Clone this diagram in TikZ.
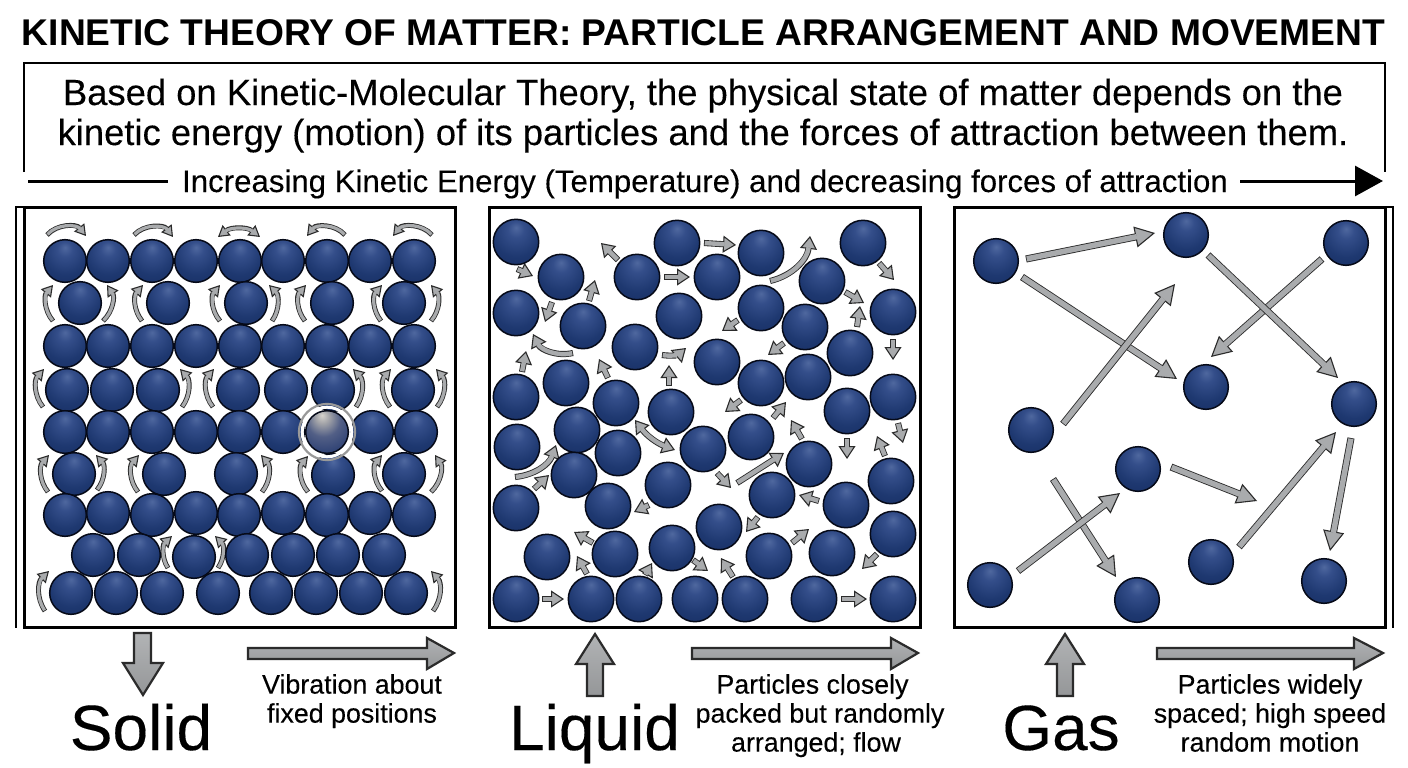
\documentclass[tikz,border=0pt]{standalone}
\usepackage{fontspec}
\setmainfont{Liberation Sans}
\newfontfamily\sturdy[FakeBold=0.2]{Liberation Sans}
\usetikzlibrary{arrows.meta}

\definecolor{arrowgray}{HTML}{A9ABAD}
\definecolor{arrowedge}{HTML}{2B2B2B}
\definecolor{rim}{HTML}{060A18}
\definecolor{ballA}{HTML}{4F689F}
\definecolor{ballB}{HTML}{344E8A}
\definecolor{ballC}{HTML}{1E3870}
\definecolor{ballD}{HTML}{142A5E}
\definecolor{ballE}{HTML}{0B1C46}
\definecolor{glowA}{HTML}{D6D3CC}
\definecolor{glowB}{HTML}{A2A3A8}
\definecolor{glowC}{HTML}{525F86}
\definecolor{glowD}{HTML}{24396F}
\definecolor{glowE}{HTML}{102250}

% Navy particle with a soft highlight above its centre
\pgfdeclareradialshading{particle}{\pgfpoint{0bp}{16bp}}{%
  color(0bp)=(ballA);
  color(9bp)=(ballB);
  color(26bp)=(ballC);
  color(48bp)=(ballD);
  color(68bp)=(ballE)}
% Brighter particle used for the marked one
\pgfdeclareradialshading{glowing}{\pgfpoint{-6bp}{20bp}}{%
  color(0bp)=(glowA);
  color(8bp)=(glowB);
  color(20bp)=(glowC);
  color(40bp)=(glowD);
  color(75bp)=(glowE)}

\tikzset{
  ballbase/.style={circle,inner sep=0pt,outer sep=0pt,draw=rim,line width=1.5pt,shading=particle},
  framebox/.style={draw=black,line width=3pt},
  sideline/.style={draw=black,line width=2.8pt},
  bigarrow/.style={draw=arrowedge,line width=2.2pt,line join=miter,top color=arrowgray!90!white,bottom color=arrowgray!88!black},
  headline/.style={font=\fontsize{37.2}{40}\selectfont\bfseries,inner sep=0pt,anchor=base},
  bodyline/.style={font=\sturdy\fontsize{36.4}{40}\selectfont,inner sep=0pt,anchor=base},
  axisline/.style={font=\sturdy\fontsize{31.2}{34}\selectfont,inner sep=0pt,anchor=base},
  statename/.style={font=\sturdy\fontsize{64}{66}\selectfont,inner sep=0pt,anchor=base},
  noteline/.style={font=\sturdy\fontsize{26.8}{29}\selectfont,inner sep=0pt,anchor=north,align=center},
}

% Block arrow: shaft width, head length, head width, path
\newcommand{\flow}[4]{%
  \draw[draw=arrowedge,line width=#1pt+1.7pt,
    -{Triangle[length=#2pt,width=#3pt,line width=1.1pt,fill=arrowgray]}] #4;
  \draw[draw=arrowgray,line width=#1pt,shorten >=#2pt-1.5pt,shorten <=0.8pt] #4;}
% The same with a head on both ends
\newcommand{\flowboth}[4]{%
  \draw[draw=arrowedge,line width=#1pt+1.7pt,
    {Triangle[length=#2pt,width=#3pt,line width=1.1pt,fill=arrowgray]}-{Triangle[length=#2pt,width=#3pt,line width=1.1pt,fill=arrowgray]}] #4;
  \draw[draw=arrowgray,line width=#1pt,shorten >=#2pt-1.5pt,shorten <=#2pt-1.5pt] #4;}
\newcommand{\vib}[1]{\flow{3.2}{11}{13}{#1}}
\newcommand{\liq}[1]{\flow{4.4}{13}{17}{#1}}
\newcommand{\fly}[1]{\flow{5.4}{20}{21}{#1}}

\begin{document}
\begin{tikzpicture}[x=1pt,y=-1pt]
\path[use as bounding box,fill=white] (0,0) rectangle (1408,768);

% Heading and introduction
\node[headline] (title) at (703.5,46) {KINETIC THEORY OF MATTER: PARTICLE ARRANGEMENT AND MOVEMENT};
\draw[black,line width=2pt] (24,172) -- (24,63) -- (1385,63) -- (1385,172);
\node[bodyline] (introa) at (703,105) {Based on Kinetic-Molecular Theory, the physical state of matter depends on the};
\node[bodyline] (introb) at (703,145) {kinetic energy (motion) of its particles and the forces of attraction between them.};
\node[axisline] (axis) at (705,192) {Increasing Kinetic Energy (Temperature) and decreasing forces of attraction};
\coordinate (axisstart) at (28,181);
\coordinate (axisstop) at (168,181);
\coordinate (axisresume) at (1240,181);
\coordinate (axisend) at (1383,181);
\draw[black,line width=3pt] (axisstart) -- (axisstop);
\draw[black,line width=3pt,-{Triangle[length=28pt,width=30pt]}] (axisresume) -- (axisend);

% Panel frames
\draw[framebox] (24,207) rectangle (455,627);
\draw[sideline] (24,207) -- (16,207) -- (16,628);
\draw[framebox] (489,207) rectangle (920,627);
\draw[framebox] (954,207) rectangle (1385,627);
\draw[sideline] (1385,207) -- (1393,207) -- (1393,628);

% Solid: vibration arrows
\vib{(47,235) to[bend left=50] (86,236)}
\vib{(134,235) to[bend left=50] (173,237)}
\flowboth{3.2}{11}{13}{(218,237) to[bend left=38] (260,237)}
\vib{(345,235) to[bend right=50] (307,236)}
\vib{(432,235) to[bend right=50] (393,236)}
\foreach \xa/\ya/\xb/\yb/\bd in {
  53/321/53/285/40, 142/321/143/285/40, 220/321/220/285/40, 305/321/306/285/40, 381/321/382/285/40,
  43/407/44/369/40, 213/407/214/369/40, 390/407/391/369/40,
  48/492/49/455/40, 138/492/139/455/40, 308/492/308/456/40, 382/491/382/455/40,
  168/568/172/536/40, 45/611/49/571/40}
  {\vib{(\xa,\ya) to[bend left=\bd] (\xb,\yb)}}
\foreach \xa/\ya/\xb/\yb/\bd in {
  103/321/107/285/40, 272/321/269/285/40, 431/321/431/285/40,
  182/407/180/369/40, 356/407/353/369/40, 437/407/436/369/40,
  97/490/96/455/40, 262/492/261/455/40, 431/492/435/455/40,
  218/568/215/536/40, 433/611/431/571/40}
  {\vib{(\xa,\ya) to[bend right=\bd] (\xb,\yb)}}

% Solid: particles
\foreach \x/\y [count=\i] in {
  65/261,108/261,152/261,196/261,240/261,283/261,327/261,370/261,414/261,
  80/303,168/303,246/303,332/303,404/303,
  65/346,108/346,152/346,196/346,240/346,283/346,327/346,370/346,414/346,
  67/390,112/390,158/390,238/390,286/390,333/390,413/390,
  65/432,108/432,152/432,196/432,239/432,283/432,372/432,416/432,
  74/474,164/474,236/474,333/475,404/474,
  65/515,108/513,152/515,196/513,239/515,283/513,327/515,370/513,414/515,
  93/555,139/555,194/557,247/555,293/555,338/555,384/555,
  71/593,116/593,162/593,218/593,271/593,316/593,361/593,406/593}
  {\node[ballbase,minimum size=42.6pt] (sol\i) at (\x,\y) {};}
\draw[white,line width=3pt] (327,432) circle[radius=24.8];
\node[ballbase,shading=glowing,minimum size=42.6pt] (marked) at (327,432) {};
\draw[black!40,line width=2.2pt] (marked.center) circle[radius=28];

% Liquid: flow arrows
\foreach \xa/\ya/\xb/\yb in {
  618/260/601/243, 704/243/736/245, 664/277/690/277, 879/263/894/280, 845/292/864/303,
  857/327/860/306, 893/339/893/360, 738/320/722/331, 784/343/768/355, 741/400/725/412,
  773/418/786/402, 589/301/595/280, 552/302/545/322, 522/372/526/351, 608/378/599/359,
  669/386/669/365, 534/489/549/475, 717/473/731/488, 737/483/784/453, 802/439/791/420,
  847/438/847/459, 898/423/903/443, 885/456/877/436, 819/501/799/495, 758/517/746/532,
  649/505/634/512, 593/543/574/532, 587/574/577/556, 645/575/652/563, 693/560/708/571,
  733/577/721/558, 792/543/809/529, 877/554/862/569, 542/599/564/599, 841/599/867/599,
  517/269/533/276}
  {\liq{(\xa,\ya) -- (\xb,\yb)}}
\liq{(770,281) to[bend right=35] (810,236)}
\liq{(573,353) to[bend left=38] (533,334)}
\liq{(662,355) to[bend right=25] (686,348)}
\liq{(515,477) to[bend right=32] (556,445)}
\flowboth{4.4}{13}{17}{(635,420) to[bend right=16] (675,450)}

% Liquid: particles
\foreach \x/\y [count=\i] in {
  516/242,561/277,516/313,583/326,637/277,677/243,717/277,761/253,679/316,822/281,863/243,893/312,
  761/308,805/327,635/347,717/362,850/353,761/383,808/377,893/397,847/411,516/397,566/383,616/403,671/412,
  577/430,517/447,618/453,703/449,751/437,574/475,516/508,608/506,668/485,809/464,772/495,891/481,846/505,
  893/534,719/527,672/548,615/554,547/557,769/556,832/553,
  516/599,591/599,639/599,695/599,745/599,814/599,893/599}
  {\node[ballbase,minimum size=45.4pt] (liq\i) at (\x,\y) {};}

% Gas: particles
\foreach \x/\y/\n in {
  996/261/a,1186/235/b,1346/243/c,1206/387/d,1354/404/e,1031/430/f,
  1138/469/g,990/585/h,1137/600/i,1211/562/j,1324/581/k}
  {\node[ballbase,minimum size=44.6pt] (gas\n) at (\x,\y) {};}

% Gas: long straight paths
\fly{(1026,259) -- (1155,233)}
\fly{(1022,277) -- (1177,379)}
\fly{(1063,424) -- (1175,284)}
\fly{(1322,259) -- (1211,357)}
\fly{(1208,255) -- (1338,378)}
\fly{(1171,467) -- (1257,501)}
\fly{(1053,479) -- (1116,577)}
\fly{(1018,571) -- (1120,493)}
\fly{(1239,547) -- (1336,432)}
\fly{(1351,438) -- (1330,551)}

% State pointers
\draw[bigarrow] (134,633) -- (151,633) -- (151,663) -- (163,663) -- (143,695) -- (123,663) -- (134,663) -- cycle;
\draw[bigarrow] (587,696) -- (603,696) -- (603,664) -- (614,664) -- (595,634) -- (576,664) -- (587,664) -- cycle;
\draw[bigarrow] (1057,696) -- (1073,696) -- (1073,664) -- (1084,664) -- (1065,634) -- (1046,664) -- (1057,664) -- cycle;
% Direction arrows beside the state names
\draw[bigarrow] (248,648) -- (427,648) -- (427,638) -- (454,653) -- (427,669) -- (427,659) -- (248,659) -- cycle;
\draw[bigarrow] (692,648) -- (891,648) -- (891,638) -- (918,653) -- (891,669) -- (891,659) -- (692,659) -- cycle;
\draw[bigarrow] (1157,648) -- (1354,648) -- (1354,638) -- (1383,653) -- (1354,669) -- (1354,659) -- (1157,659) -- cycle;

% State names and notes
\node[statename] (solid) at (141,750) {Solid};
\node[statename] (liquid) at (594.5,750) {Liquid};
\node[statename] (gas) at (1061,750) {Gas};
\node[noteline] (solidnote) at (352,674) {Vibration about\\fixed positions};
\node[noteline] (liquidnote) at (820,674) {\hspace*{-15pt}Particles closely\\packed but randomly\\\hspace*{-8pt}arranged; flow};
\node[noteline] (gasnote) at (1270,674) {Particles widely\\spaced; high speed\\random motion};
\end{tikzpicture}
\end{document}
